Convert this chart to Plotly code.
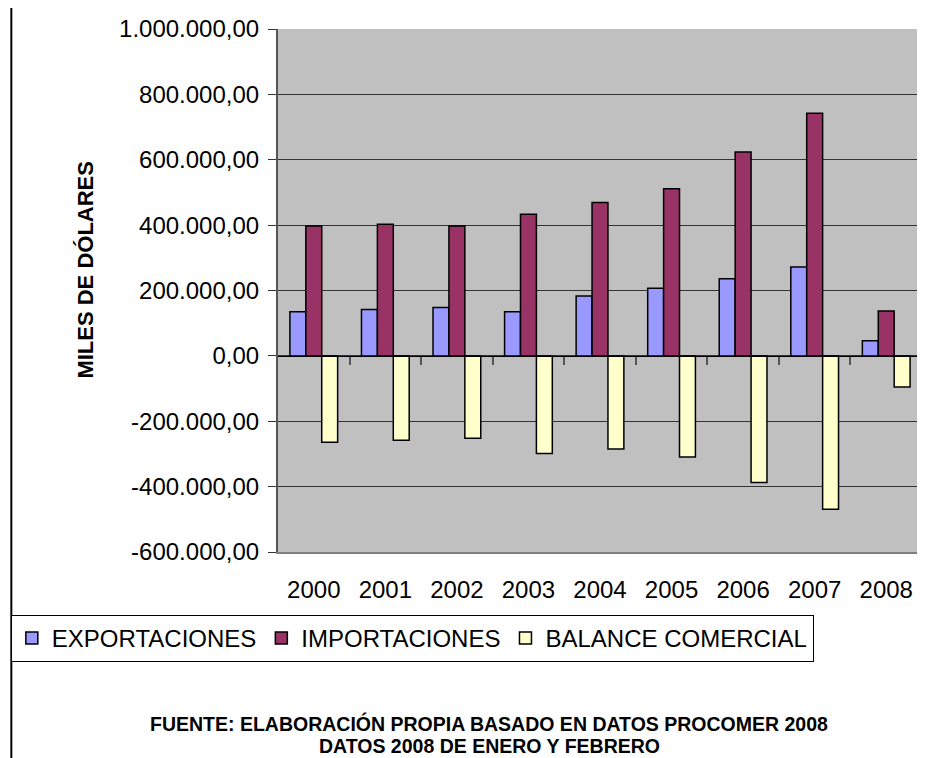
import plotly.graph_objects as go

# ------------------------------------------------------------
# Datos (miles de dólares)
# ------------------------------------------------------------
anios = ["2000", "2001", "2002", "2003", "2004", "2005", "2006", "2007", "2008"]
exportaciones = [135000, 142000, 148000, 135000, 183000, 207000, 236000, 272000, 46000]
importaciones = [397000, 403000, 397000, 433000, 469000, 511000, 624000, 742000, 137000]
balance = [-264000, -258000, -252000, -299000, -285000, -309000, -387000, -469000, -95000]

y_ticks = [-600000, -400000, -200000, 0, 200000, 400000, 600000, 800000, 1000000]
y_tick_text = ["-600.000,00", "-400.000,00", "-200.000,00", "0,00", "200.000,00",
               "400.000,00", "600.000,00", "800.000,00", "1.000.000,00"]

FONT = "Liberation Sans, Arial, sans-serif"

# la página añade 8 px de margen; la figura se dibuja desde ahí
OFF = 8
W, H = 925 - OFF, 758 - OFF
ML, MR, MT, MB = 268, 3, 21, 206
PW, PH = W - ML - MR, H - MT - MB


def px_x(px):
    """Posición en pantalla -> coordenada paper (x)."""
    return (px - OFF - ML) / PW


def px_y(py):
    """Posición en pantalla -> coordenada paper (y)."""
    return (H - MB - (py - OFF)) / PH


fig = go.Figure()

fig.add_trace(go.Bar(
    x=anios, y=exportaciones, name="EXPORTACIONES",
    marker=dict(color="#9999FF", line=dict(color="black", width=1.5)),
))
fig.add_trace(go.Bar(
    x=anios, y=importaciones, name="IMPORTACIONES",
    marker=dict(color="#993366", line=dict(color="black", width=1.5)),
))
fig.add_trace(go.Bar(
    x=anios, y=balance, name="BALANCE COMERCIAL",
    marker=dict(color="#FFFFCC", line=dict(color="black", width=1.5)),
))

# eje de categorías cruzando en cero (sólo marcas)
fig.add_trace(go.Scatter(x=[None], y=[None], xaxis="x2", showlegend=False, hoverinfo="skip"))

y_min, y_max = y_ticks[0], y_ticks[-1]

fig.update_layout(
    width=W, height=H,
    margin=dict(l=ML, r=MR, t=MT, b=MB),
    paper_bgcolor="white", plot_bgcolor="#C0C0C0",
    font=dict(family=FONT, color="black", size=24),
    barmode="group", bargap=0.333, bargroupgap=0,
    showlegend=True,
    legend=dict(
        orientation="h", x=px_x(8), y=px_y(615), xanchor="left", yanchor="top",
        bgcolor="white", bordercolor="black", borderwidth=1,
        font=dict(size=24, family=FONT), traceorder="normal",
    ),
    xaxis=dict(
        showgrid=False, zeroline=False, ticks="", ticklabelstandoff=15,
        showline=True, linecolor="#808080", linewidth=2,
        tickfont=dict(size=24),
    ),
    xaxis2=dict(
        overlaying="x", anchor="free", position=(0 - y_min) / (y_max - y_min),
        range=[-0.5, len(anios) - 0.5], showgrid=False, zeroline=False,
        showticklabels=False, ticks="outside", ticklen=8, tickwidth=2, tickcolor="#555555",
        tickvals=[i + 0.5 for i in range(len(anios))], side="bottom",
        showline=True, linecolor="black", linewidth=1,
    ),
    yaxis=dict(
        range=[y_min, y_max], tickvals=y_ticks, ticktext=y_tick_text,
        showgrid=True, gridcolor="#333333", gridwidth=1,
        zeroline=False, ticks="outside", ticklen=8, tickcolor="#333333",
        showline=True, linecolor="#555555", linewidth=2,
        ticklabelstandoff=4, tickfont=dict(size=24),
    ),
)

# línea de borde izquierdo de la hoja
fig.add_shape(type="line", xref="paper", yref="paper",
              x0=px_x(OFF + 0.5), x1=px_x(OFF + 0.5), y0=px_y(758), y1=px_y(OFF),
              line=dict(color="black", width=2))

fig.add_annotation(
    text="<b>MILES DE DÓLARES</b>", textangle=-90, showarrow=False,
    xref="paper", yref="paper", x=px_x(82), y=px_y(270),
    xanchor="center", yanchor="middle", font=dict(size=22, family=FONT),
)
fig.add_annotation(
    text="<b>FUENTE: ELABORACIÓN PROPIA BASADO EN DATOS PROCOMER 2008</b>",
    showarrow=False, xref="paper", yref="paper", x=px_x(488), y=px_y(723),
    xanchor="center", yanchor="middle", font=dict(size=19.5, family=FONT),
)
fig.add_annotation(
    text="<b>DATOS 2008 DE ENERO Y FEBRERO</b>",
    showarrow=False, xref="paper", yref="paper", x=px_x(488), y=px_y(746),
    xanchor="center", yanchor="middle", font=dict(size=19.5, family=FONT),
)

fig.write_html("out.html")
